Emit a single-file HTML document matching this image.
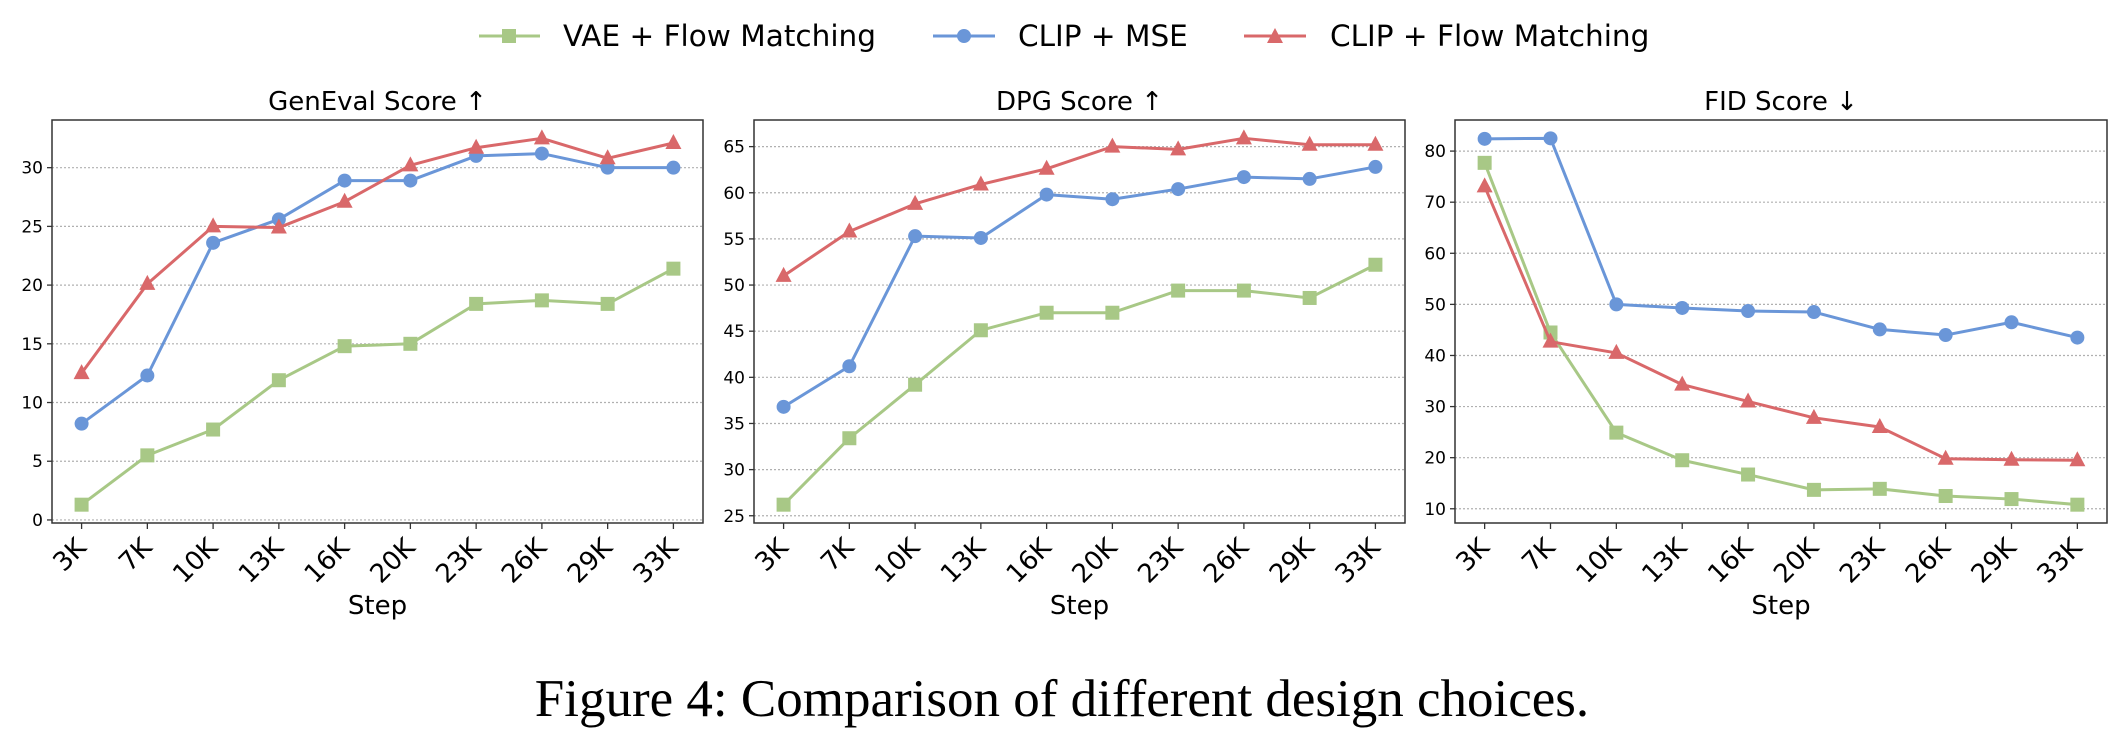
<!DOCTYPE html>
<html><head><meta charset="utf-8">
<style>
html,body{margin:0;padding:0;background:#fff;}
svg{display:block;font-family:"DejaVu Sans","Liberation Sans",sans-serif;}
</style></head>
<body>
<svg id="fig" width="2128" height="746" viewBox="0 0 2128 746" xmlns="http://www.w3.org/2000/svg">
  <g>
    <g>
      <line x1="479" y1="36" x2="540" y2="36" stroke="#a8c886" stroke-width="3"/>
      <rect x="502" y="29" width="14" height="14" fill="#a8c886"/>
      <text x="563" y="46" font-size="29.5" fill="#000">VAE + Flow Matching</text>
    </g>
    <g>
      <line x1="933" y1="36" x2="995" y2="36" stroke="#6a96d8" stroke-width="3"/>
      <circle cx="964" cy="36" r="7" fill="#6a96d8"/>
      <text x="1018" y="46" font-size="29.5" fill="#000">CLIP + MSE</text>
    </g>
    <g>
      <line x1="1244" y1="36" x2="1306" y2="36" stroke="#d9686a" stroke-width="3"/>
      <polygon points="1275,28 1283,43 1267,43" fill="#d9686a"/>
      <text x="1330" y="46" font-size="29.5" fill="#000">CLIP + Flow Matching</text>
    </g>
  </g>
  <g id="panels"></g>
  <text x="1062" y="716" text-anchor="middle" font-size="53" font-family="'Liberation Serif',serif" fill="#000">Figure 4: Comparison of different design choices.</text>
</svg>
<script>
const categories = ["3K","7K","10K","13K","16K","20K","23K","26K","29K","33K"];
const genevalVae = [1.3,5.5,7.7,11.9,14.8,15.0,18.4,18.7,18.4,21.4];
const genevalMse = [8.2,12.3,23.6,25.6,28.9,28.9,31.0,31.2,30.0,30.0];
const genevalFm  = [12.5,20.1,25.0,24.9,27.1,30.2,31.7,32.5,30.8,32.1];
const dpgVae = [26.2,33.4,39.2,45.1,47.0,47.0,49.4,49.4,48.6,52.2];
const dpgMse = [36.8,41.2,55.3,55.1,59.8,59.3,60.4,61.7,61.5,62.8];
const dpgFm  = [51.0,55.8,58.8,60.9,62.6,65.0,64.7,65.9,65.2,65.2];
const fidVae = [77.7,44.5,24.9,19.5,16.7,13.7,13.9,12.5,11.9,10.8];
const fidMse = [82.4,82.5,50.0,49.3,48.7,48.5,45.1,44.0,46.5,43.5];
const fidFm  = [73.1,42.7,40.5,34.3,31.0,27.8,26.0,19.8,19.6,19.5];
const genevalTicks = [0,5,10,15,20,25,30];
const dpgTicks = [25,30,35,40,45,50,55,60,65];
const fidTicks = [10,20,30,40,50,60,70,80];

const NS="http://www.w3.org/2000/svg";
const root=document.getElementById('panels');
function mk(tag,attrs,parent){const e=document.createElementNS(NS,tag);for(const k in attrs)e.setAttribute(k,attrs[k]);parent.appendChild(e);return e;}

const COLORS={vae:"#a8c886",mse:"#6a96d8",fm:"#d9686a"};
const panels=[
 {key:'geneval',title:'GenEval Score ↑',left:52,right:703,ticks:genevalTicks,series:[['vae',genevalVae],['mse',genevalMse],['fm',genevalFm]]},
 {key:'dpg',title:'DPG Score ↑',left:754,right:1405,ticks:dpgTicks,series:[['vae',dpgVae],['mse',dpgMse],['fm',dpgFm]]},
 {key:'fid',title:'FID Score ↓',left:1455,right:2107,ticks:fidTicks,series:[['vae',fidVae],['mse',fidMse],['fm',fidFm]]}
];
const TOP=120,BOT=523;

panels.forEach(p=>{
  const g=mk('g',{},root);
  
  
  let all=[];p.series.forEach(s=>all=all.concat(s[1]));
  const mn=Math.min(...all),mx=Math.max(...all),m=(mx-mn)*0.05;
  const y0=mn-m,y1=mx+m;
  const n=categories.length;
  const xs=i=>p.left+(i+0.45)/(n-1+0.9)*(p.right-p.left);
  const ys=v=>BOT-(v-y0)/(y1-y0)*(BOT-TOP);
  p.ticks.forEach(t=>{
    const y=ys(t);
    const gl=mk('line',{x1:p.left,x2:p.right,y1:y,y2:y,stroke:'#b0b0b0','stroke-width':1.2,'stroke-dasharray':'2,2'},g);
    
    
    mk('line',{x1:p.left-5,x2:p.left,y1:y,y2:y,stroke:'#333','stroke-width':1.3},g);
    const tl=mk('text',{x:p.left-9,y:y+6,'text-anchor':'end','font-size':17,fill:'#000'},g);
    tl.textContent=t;
    
    
  });
  categories.forEach((c,i)=>{
    const x=xs(i);
    mk('line',{x1:x,x2:x,y1:BOT,y2:BOT+6,stroke:'#333','stroke-width':1.3},g);
    const tl=mk('text',{x:x+6,y:BOT+26,'text-anchor':'end','font-size':26,fill:'#000',transform:`rotate(-45 ${x+6} ${BOT+26})`},g);
    tl.textContent=c;
    
    
  });
  p.series.forEach(([k,vals])=>{
    const col=COLORS[k];
    const sg=mk('g',{},g);
    
    
    mk('polyline',{points:vals.map((v,i)=>xs(i)+','+ys(v)).join(' '),fill:'none',stroke:col,'stroke-width':3,'stroke-linejoin':'round'},sg);
    vals.forEach((v,i)=>{
      const x=xs(i),y=ys(v);let e;
      if(k==='vae')e=mk('rect',{x:x-7,y:y-7,width:14,height:14,fill:col},sg);
      else if(k==='mse')e=mk('circle',{cx:x,cy:y,r:7,fill:col},sg);
      else e=mk('polygon',{points:`${x},${y-9} ${x+8},${y+6} ${x-8},${y+6}`,fill:col},sg);
      
      
    });
  });
  const fr=mk('rect',{x:p.left,y:TOP,width:p.right-p.left,height:BOT-TOP,fill:'none',stroke:'#333','stroke-width':1.5},g);
  
  
  const tt=mk('text',{x:(p.left+p.right)/2,y:110,'text-anchor':'middle','font-size':26,fill:'#000'},g);
  tt.textContent=p.title;
  
  
  const xt=mk('text',{x:(p.left+p.right)/2,y:614,'text-anchor':'middle','font-size':26,fill:'#000'},g);
  xt.textContent='Step';
  
  
});
</script>
</body></html>
